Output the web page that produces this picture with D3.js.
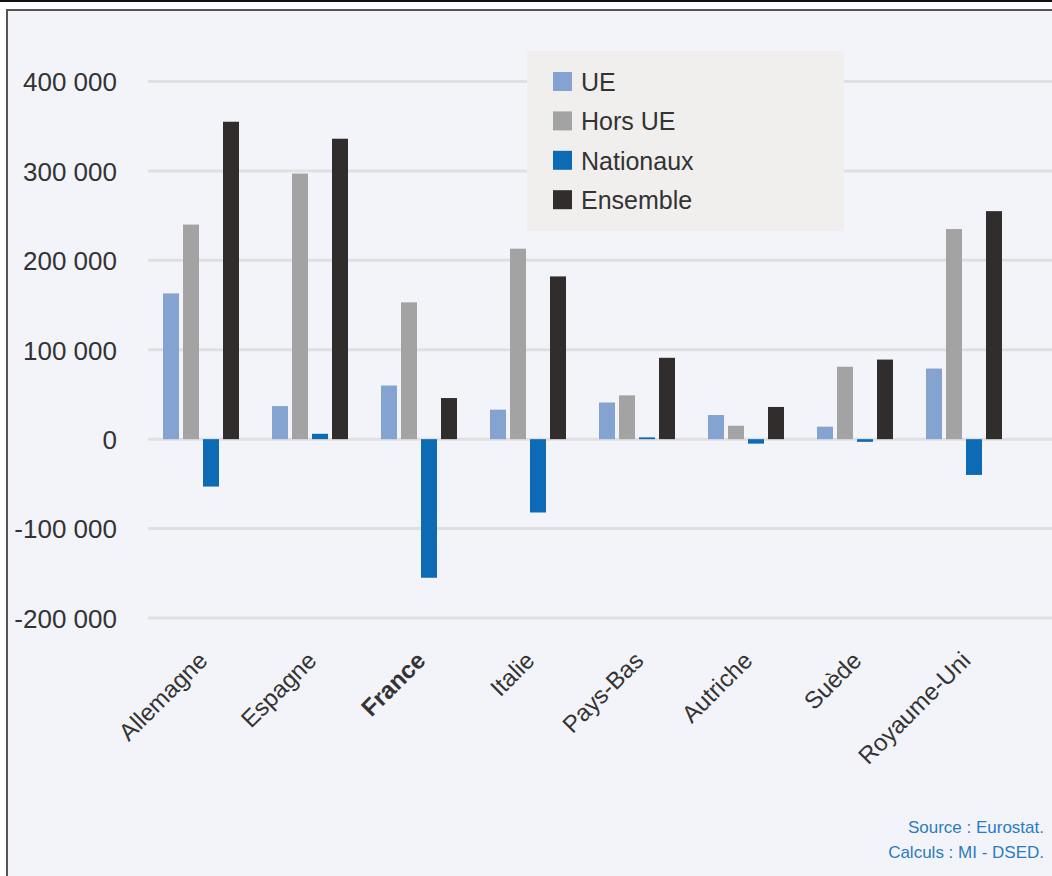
<!DOCTYPE html>
<html lang="fr">
<head>
<meta charset="utf-8">
<script src="https://cdn.jsdelivr.net/npm/d3@7"></script>
<style>
  html, body { margin: 0; padding: 0; background: #ffffff; }
  svg { display: block; }
  text { font-family: "Liberation Sans", Arial, Helvetica, sans-serif; }
</style>
</head>
<body>
<div id="chart"></div>
<script>
// Pays et séries
const categories = ["Allemagne", "Espagne", "France", "Italie", "Pays-Bas", "Autriche", "Suède", "Royaume-Uni"];
const seriesNames = ["UE", "Hors UE", "Nationaux", "Ensemble"];
const ueValues        = [163000, 37000, 60000, 33000, 41000, 27000, 14000, 79000];
const horsUeValues    = [240000, 297000, 153000, 213000, 49000, 15000, 81000, 235000];
const nationauxValues = [-53000, 6000, -155000, -82000, 2000, -5000, -3000, -40000];
const ensembleValues  = [355000, 336000, 46000, 182000, 91000, 36000, 89000, 255000];
const yTicks = [-200000, -100000, 0, 100000, 200000, 300000, 400000];
const sourceLines = ["Source : Eurostat.", "Calculs : MI - DSED."];

const colors = ["#85a3d1", "#a3a3a3", "#0d6bb5", "#302d2c"];
const seriesValues = [ueValues, horsUeValues, nationauxValues, ensembleValues];

const W = 1052, H = 876;
const svg = d3.select("#chart").append("svg").attr("width", W).attr("height", H);

// Cadre du graphique
svg.append("rect").attr("x", 0).attr("y", 0).attr("width", W).attr("height", 2).attr("fill", "#111");
svg.append("rect").attr("x", 7).attr("y", 10).attr("width", W - 7).attr("height", H - 10).attr("fill", "#f3f4f9");
svg.append("line").attr("x1", 6.5).attr("x2", W).attr("y1", 10).attr("y2", 10)
  .attr("stroke", "#555").attr("stroke-width", 2);
svg.append("line").attr("x1", 7).attr("x2", 7).attr("y1", 9).attr("y2", H)
  .attr("stroke", "#555").attr("stroke-width", 2);

// Échelles
const x0 = d3.scaleBand().domain(categories).range([146.5, 1018.5]).paddingInner(0).paddingOuter(0);
const x1 = d3.scaleBand().domain(seriesNames).range([0, x0.bandwidth()]).paddingInner(0.2).paddingOuter(0.825);
const y = d3.scaleLinear().domain([-200000, 400000]).range([618, 81.5]);

const fmt = v => d3.format(",")(v).replace(/,/g, " ").replace("−", "-");

// Lignes de quadrillage
svg.append("g").selectAll("line").data(yTicks).join("line")
  .attr("x1", 148).attr("x2", W)
  .attr("y1", d => y(d)).attr("y2", d => y(d))
  .attr("stroke", "#e0e0e2").attr("stroke-width", 3);

// Axe des ordonnées
const yAxis = svg.append("g").attr("transform", "translate(117,0)")
  .call(d3.axisLeft(y).tickValues(yTicks).tickSize(0).tickPadding(0).tickFormat(fmt));
yAxis.select(".domain").remove();
yAxis.selectAll("text")
  .attr("font-family", "'Liberation Sans', Arial, sans-serif")
  .attr("font-size", 26).attr("fill", "#333").attr("dy", "0.36em");

// Barres
const groups = svg.append("g").selectAll("g").data(categories).join("g")
  .attr("transform", d => `translate(${x0(d)},0)`);
groups.selectAll("rect")
  .data((c, i) => seriesNames.map((s, j) => ({ s, v: seriesValues[j][i], c: colors[j] })))
  .join("rect")
  .attr("x", d => x1(d.s))
  .attr("width", x1.bandwidth())
  .attr("y", d => y(Math.max(0, d.v)))
  .attr("height", d => Math.abs(y(d.v) - y(0)))
  .attr("fill", d => d.c);

// Axe des catégories
const xAxis = svg.append("g").attr("transform", "translate(0,662)")
  .call(d3.axisBottom(x0).tickSize(0).tickPadding(0));
xAxis.select(".domain").remove();
xAxis.selectAll("text")
  .attr("font-family", "'Liberation Sans', Arial, sans-serif")
  .attr("font-size", 24).attr("fill", "#333")
  .attr("font-weight", d => d === "France" ? "bold" : "normal")
  .attr("text-anchor", "end")
  .attr("dy", 0).attr("y", 0)
  .attr("transform", "translate(8,0) rotate(-45)");

// Légende
const legend = svg.append("g");
legend.append("rect").attr("x", 527).attr("y", 51).attr("width", 317).attr("height", 180).attr("fill", "#f0efed");
const items = legend.selectAll("g.item").data(seriesNames).join("g").attr("class", "item")
  .attr("transform", (d, i) => `translate(553,${72 + i * 39.4})`);
items.append("rect").attr("width", 19).attr("height", 19).attr("fill", (d, i) => colors[i]);
items.append("text").attr("x", 28).attr("y", 19).attr("font-size", 25).attr("fill", "#333").text(d => d);

// Source
svg.append("g").selectAll("text").data(sourceLines).join("text")
  .attr("x", 1044).attr("y", (d, i) => 833 + i * 24.5)
  .attr("text-anchor", "end")
  .attr("font-family", "'Open Sans', 'Noto Sans', sans-serif")
  .attr("font-size", 17).attr("fill", "#2b7bc1")
  .text(d => d);
</script>
</body>
</html>
